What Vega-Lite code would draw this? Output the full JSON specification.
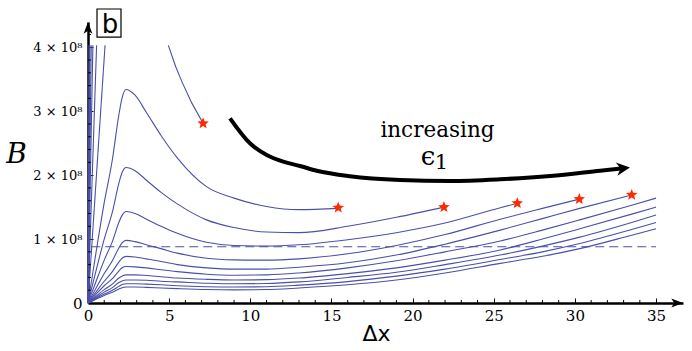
{
  "$schema": "https://vega.github.io/schema/vega-lite/v6.json",
  "width": 595,
  "height": 281,
  "autosize": "none",
  "padding": {"left": 88, "top": 22, "right": 9, "bottom": 48},
  "background": "white",
  "config": {"view": {"stroke": null}},
  "datasets": {
    "curves": [
      {"x": 0, "C2": 0, "C3": 0, "C4": 0, "C5": 0, "C6": 0, "C7": 0, "C8": 0, "C9": 0, "C10": 0, "C11": 0},
      {"x": 0.5, "C2": 0.80, "C3": 0.51, "C4": 0.34, "C5": 0.235, "C6": 0.175, "C7": 0.137, "C8": 0.106, "C9": 0.086, "C10": 0.072, "C11": 0.06},
      {"x": 1.0, "C2": 1.57, "C3": 1.00, "C4": 0.67, "C5": 0.46, "C6": 0.34, "C7": 0.27, "C8": 0.21, "C9": 0.17, "C10": 0.14, "C11": 0.118},
      {"x": 1.5, "C2": 2.24, "C3": 1.42, "C4": 0.96, "C5": 0.66, "C6": 0.49, "C7": 0.38, "C8": 0.295, "C9": 0.24, "C10": 0.20, "C11": 0.168},
      {"x": 1.9, "C2": 2.94, "C3": 1.87, "C4": 1.26, "C5": 0.86, "C6": 0.64, "C7": 0.50, "C8": 0.39, "C9": 0.32, "C10": 0.26, "C11": 0.22},
      {"x": 2.1, "C2": 3.21, "C3": 2.04, "C4": 1.37, "C5": 0.94, "C6": 0.70, "C7": 0.55, "C8": 0.42, "C9": 0.345, "C10": 0.29, "C11": 0.24},
      {"x": 2.35, "C2": 3.34, "C3": 2.12, "C4": 1.43, "C5": 0.98, "C6": 0.73, "C7": 0.57, "C8": 0.44, "C9": 0.36, "C10": 0.30, "C11": 0.25},
      {"x": 2.9, "C2": 3.25, "C3": 2.07, "C4": 1.40, "C5": 0.96, "C6": 0.72, "C7": 0.565, "C8": 0.44, "C9": 0.36, "C10": 0.30, "C11": 0.25},
      {"x": 3.6, "C2": 2.98, "C3": 1.92, "C4": 1.31, "C5": 0.91, "C6": 0.69, "C7": 0.55, "C8": 0.43, "C9": 0.355, "C10": 0.295, "C11": 0.245},
      {"x": 4.5, "C2": 2.62, "C3": 1.73, "C4": 1.20, "C5": 0.85, "C6": 0.65, "C7": 0.52, "C8": 0.41, "C9": 0.34, "C10": 0.285, "C11": 0.235},
      {"x": 5.5, "C2": 2.27, "C3": 1.55, "C4": 1.09, "C5": 0.78, "C6": 0.60, "C7": 0.49, "C8": 0.39, "C9": 0.33, "C10": 0.27, "C11": 0.225},
      {"x": 7.3, "C2": 1.82, "C3": 1.30, "C4": 0.95, "C5": 0.70, "C6": 0.55, "C7": 0.45, "C8": 0.37, "C9": 0.31, "C10": 0.255, "C11": 0.21},
      {"x": 9, "C2": 1.64, "C3": 1.18, "C4": 0.90, "C5": 0.675, "C6": 0.53, "C7": 0.435, "C8": 0.36, "C9": 0.30, "C10": 0.25, "C11": 0.205},
      {"x": 11, "C2": 1.51, "C3": 1.11, "C4": 0.89, "C5": 0.67, "C6": 0.53, "C7": 0.44, "C8": 0.365, "C9": 0.305, "C10": 0.255, "C11": 0.21},
      {"x": 13, "C2": 1.46, "C3": 1.10, "C4": 0.91, "C5": 0.69, "C6": 0.56, "C7": 0.47, "C8": 0.39, "C9": 0.33, "C10": 0.28, "C11": 0.235},
      {"x": 15.42, "C2": 1.48},
      {"x": 16, "C3": 1.20, "C4": 0.99, "C5": 0.77, "C6": 0.63, "C7": 0.55, "C8": 0.46, "C9": 0.40, "C10": 0.335, "C11": 0.285},
      {"x": 19, "C3": 1.34, "C4": 1.10, "C5": 0.90, "C6": 0.75, "C7": 0.66, "C8": 0.55, "C9": 0.48, "C10": 0.42, "C11": 0.36},
      {"x": 21.93, "C3": 1.50},
      {"x": 22, "C4": 1.25, "C5": 1.07, "C6": 0.92, "C7": 0.80, "C8": 0.67, "C9": 0.60, "C10": 0.53, "C11": 0.47},
      {"x": 25.4, "C4": 1.49, "C5": 1.31, "C6": 1.14, "C7": 0.97, "C8": 0.83, "C9": 0.75, "C10": 0.68, "C11": 0.62},
      {"x": 26.45, "C4": 1.56},
      {"x": 28, "C5": 1.48, "C6": 1.32, "C7": 1.14, "C8": 1.00, "C9": 0.89, "C10": 0.80, "C11": 0.73},
      {"x": 30.27, "C5": 1.625},
      {"x": 30.3, "C6": 1.48, "C7": 1.30, "C8": 1.16, "C9": 1.03, "C10": 0.93, "C11": 0.85},
      {"x": 33.5, "C6": 1.69, "C7": 1.53, "C8": 1.39, "C9": 1.26, "C10": 1.15, "C11": 1.06},
      {"x": 35, "C7": 1.64, "C8": 1.50, "C9": 1.375, "C10": 1.26, "C11": 1.16}
    ],
    "steep": [
      {"s": "Ca", "x": 0, "B": 0}, {"s": "Ca", "x": 0.06, "B": 4.03},
      {"s": "Cb", "x": 0, "B": 0}, {"s": "Cb", "x": 0.12, "B": 4.03},
      {"s": "Cc", "x": 0, "B": 0}, {"s": "Cc", "x": 0.2, "B": 4.03},
      {"s": "Cd", "x": 0, "B": 0}, {"s": "Cd", "x": 0.3, "B": 4.03},
      {"s": "C0", "x": 0, "B": 0}, {"s": "C0", "x": 0.53, "B": 4.03},
      {"s": "C1a", "x": 0, "B": 0}, {"s": "C1a", "x": 1.05, "B": 4.03},
      {"s": "C1b", "x": 4.95, "B": 4.03}, {"s": "C1b", "x": 5.4, "B": 3.7},
      {"s": "C1b", "x": 5.77, "B": 3.47}, {"s": "C1b", "x": 6.39, "B": 3.13},
      {"s": "C1b", "x": 7.09, "B": 2.81}
    ],
    "stars": [
      {"x": 7.09, "B": 2.81},
      {"x": 15.42, "B": 1.49},
      {"x": 21.93, "B": 1.50},
      {"x": 26.45, "B": 1.56},
      {"x": 30.27, "B": 1.625},
      {"x": 33.5, "B": 1.69}
    ],
    "arrow": [
      {"x": 8.75, "B": 2.889},
      {"x": 9.98, "B": 2.498},
      {"x": 11.01, "B": 2.315},
      {"x": 12.03, "B": 2.21},
      {"x": 13.06, "B": 2.143},
      {"x": 14.09, "B": 2.069},
      {"x": 16.14, "B": 1.983},
      {"x": 19.22, "B": 1.924},
      {"x": 22.3, "B": 1.908},
      {"x": 25.39, "B": 1.935},
      {"x": 28.47, "B": 1.986},
      {"x": 31.55, "B": 2.069},
      {"x": 32.84, "B": 2.104}
    ],
    "xminor": [
      {"v": 1}, {"v": 2}, {"v": 3}, {"v": 4}, {"v": 6}, {"v": 7}, {"v": 8}, {"v": 9},
      {"v": 11}, {"v": 12}, {"v": 13}, {"v": 14}, {"v": 16}, {"v": 17}, {"v": 18}, {"v": 19},
      {"v": 21}, {"v": 22}, {"v": 23}, {"v": 24}, {"v": 26}, {"v": 27}, {"v": 28}, {"v": 29},
      {"v": 31}, {"v": 32}, {"v": 33}, {"v": 34}
    ],
    "yminor": [
      {"v": 0.2}, {"v": 0.4}, {"v": 0.6}, {"v": 0.8}, {"v": 1.2}, {"v": 1.4}, {"v": 1.6}, {"v": 1.8},
      {"v": 2.2}, {"v": 2.4}, {"v": 2.6}, {"v": 2.8}, {"v": 3.2}, {"v": 3.4}, {"v": 3.6}, {"v": 3.8}, {"v": 4.2}
    ],
    "one": [{"k": 1}]
  },
  "encoding": {
    "x": {
      "type": "quantitative",
      "scale": {"domain": [0, 36.66], "nice": false, "zero": false},
      "axis": {
        "values": [0, 5, 10, 15, 20, 25, 30, 35],
        "grid": false,
        "tickSize": -5, "tickColor": "black", "tickWidth": 1,
        "domainColor": "black", "domainWidth": 2.5,
        "labelFont": "DejaVu Serif", "labelFontSize": 15, "labelColor": "black",
        "labelPadding": 10, "labelFlush": false, "labelOverlap": false,
        "title": "Δx", "titleFont": "DejaVu Sans", "titleFontSize": 22, "titleFontWeight": "normal",
        "titleColor": "black", "titleX": 288, "titleY": 37, "titleBaseline": "alphabetic", "titleAlign": "center"
      }
    },
    "y": {
      "type": "quantitative",
      "scale": {"domain": [0, 4.395], "nice": false, "zero": false},
      "axis": {
        "values": [0, 1, 2, 3, 4],
        "grid": false,
        "labelExpr": "datum.value == 0 ? '0' : datum.value + ' × 10⁸'",
        "tickSize": -5, "tickColor": "black", "tickWidth": 1,
        "domainColor": "black", "domainWidth": 2.5,
        "labelFont": "DejaVu Serif",
        "labelFontSize": {"condition": {"test": "datum.value == 0", "value": 15}, "value": 13},
        "labelColor": "black", "labelPadding": 11, "labelFlush": false, "labelOverlap": false,
        "title": "B", "titleFont": "DejaVu Serif", "titleFontStyle": "italic", "titleFontSize": 28,
        "titleFontWeight": "normal", "titleColor": "black", "titleAngle": 0,
        "titleX": -72, "titleY": 140, "titleBaseline": "alphabetic", "titleAlign": "center"
      }
    }
  },
  "layer": [
    {
      "data": {"name": "curves"},
      "transform": [
        {"fold": ["C2", "C3", "C4", "C5", "C6", "C7", "C8", "C9", "C10", "C11"], "as": ["s", "B"]},
        {"filter": "isValid(datum.B)"}
      ],
      "mark": {"type": "line", "color": "#4b4fa8", "strokeWidth": 1.1, "interpolate": "monotone"},
      "encoding": {
        "x": {"field": "x", "type": "quantitative"},
        "y": {"field": "B", "type": "quantitative"},
        "detail": {"field": "s"}
      }
    },
    {
      "data": {"name": "steep"},
      "mark": {"type": "line", "color": "#4b4fa8", "strokeWidth": 1.1},
      "encoding": {
        "x": {"field": "x", "type": "quantitative"},
        "y": {"field": "B", "type": "quantitative"},
        "detail": {"field": "s"}
      }
    },
    {
      "data": {"name": "one"},
      "mark": {"type": "rule", "color": "#4b4fa8", "strokeWidth": 1.1, "strokeDash": [9, 5]},
      "encoding": {
        "x": {"datum": 0.2, "type": "quantitative"},
        "x2": {"datum": 35},
        "y": {"datum": 0.88, "type": "quantitative"}
      }
    },
    {
      "data": {"name": "xminor"},
      "mark": {"type": "tick", "orient": "vertical", "size": 3, "thickness": 1, "color": "black", "yOffset": -1.5, "opacity": 1},
      "encoding": {
        "x": {"field": "v", "type": "quantitative"},
        "y": {"datum": 0, "type": "quantitative"}
      }
    },
    {
      "data": {"name": "yminor"},
      "mark": {"type": "tick", "orient": "horizontal", "size": 3, "thickness": 1, "color": "black", "xOffset": 1.5, "opacity": 1},
      "encoding": {
        "y": {"field": "v", "type": "quantitative"},
        "x": {"datum": 0, "type": "quantitative"}
      }
    },
    {
      "data": {"name": "arrow"},
      "mark": {"type": "line", "color": "black", "strokeWidth": 4, "interpolate": "monotone", "strokeCap": "butt"},
      "encoding": {
        "x": {"field": "x", "type": "quantitative"},
        "y": {"field": "B", "type": "quantitative"}
      }
    },
    {
      "data": {"name": "stars"},
      "mark": {"type": "point", "shape": "M0,-1L0.26,-0.36L0.951,-0.309L0.42,0.137L0.588,0.809L0,0.44L-0.588,0.809L-0.42,0.137L-0.951,-0.309L-0.26,-0.36Z", "filled": true, "color": "#ff2a00", "size": 144, "opacity": 1, "strokeWidth": 0},
      "encoding": {
        "x": {"field": "x", "type": "quantitative"},
        "y": {"field": "B", "type": "quantitative"}
      }
    },
    {
      "data": {"name": "one"},
      "mark": {"type": "point", "shape": "M0,0L-2,-0.75L-1.5,0L-2,0.75Z", "filled": true, "color": "black", "size": 137, "opacity": 1, "strokeWidth": 0},
      "encoding": {
        "x": {"datum": 36.66, "type": "quantitative"},
        "y": {"datum": 0, "type": "quantitative"}
      }
    },
    {
      "data": {"name": "one"},
      "mark": {"type": "point", "shape": "M0,0L-0.75,2L0,1.5L0.75,2Z", "filled": true, "color": "black", "size": 137, "opacity": 1, "strokeWidth": 0},
      "encoding": {
        "x": {"datum": 0, "type": "quantitative"},
        "y": {"datum": 4.395, "type": "quantitative"}
      }
    },
    {
      "data": {"name": "one"},
      "mark": {"type": "point", "shape": "M0,0L-2,-1L-1.4,0L-2,1Z", "filled": true, "color": "black", "size": 180, "opacity": 1, "strokeWidth": 0, "angle": -7},
      "encoding": {
        "x": {"datum": 33.39, "type": "quantitative"},
        "y": {"datum": 2.12, "type": "quantitative"}
      }
    },
    {
      "data": {"name": "one"},
      "mark": {"type": "text", "text": "increasing", "font": "DejaVu Serif", "fontSize": 21.5, "color": "black", "align": "center", "baseline": "alphabetic"},
      "encoding": {
        "x": {"datum": 21.53, "type": "quantitative"},
        "y": {"datum": 2.6, "type": "quantitative"}
      }
    },
    {
      "data": {"name": "one"},
      "mark": {"type": "text", "text": "ϵ", "font": "DejaVu Serif", "fontSize": 26, "color": "black", "align": "center", "baseline": "alphabetic"},
      "encoding": {
        "x": {"datum": 20.95, "type": "quantitative"},
        "y": {"datum": 2.155, "type": "quantitative"}
      }
    },
    {
      "data": {"name": "one"},
      "mark": {"type": "text", "text": "1", "font": "DejaVu Serif", "fontSize": 21, "color": "black", "align": "center", "baseline": "alphabetic"},
      "encoding": {
        "x": {"datum": 21.78, "type": "quantitative"},
        "y": {"datum": 2.1, "type": "quantitative"}
      }
    },
    {
      "data": {"name": "one"},
      "mark": {"type": "rect", "fill": "white", "stroke": "black", "strokeWidth": 1.2},
      "encoding": {
        "x": {"datum": 0.555, "type": "quantitative"},
        "x2": {"datum": 2.033},
        "y": {"datum": 4.16, "type": "quantitative"},
        "y2": {"datum": 4.598}
      }
    },
    {
      "data": {"name": "one"},
      "mark": {"type": "text", "text": "b", "font": "DejaVu Sans", "fontSize": 26, "color": "black", "align": "center", "baseline": "alphabetic"},
      "encoding": {
        "x": {"datum": 1.355, "type": "quantitative"},
        "y": {"datum": 4.223, "type": "quantitative"}
      }
    }
  ]
}
